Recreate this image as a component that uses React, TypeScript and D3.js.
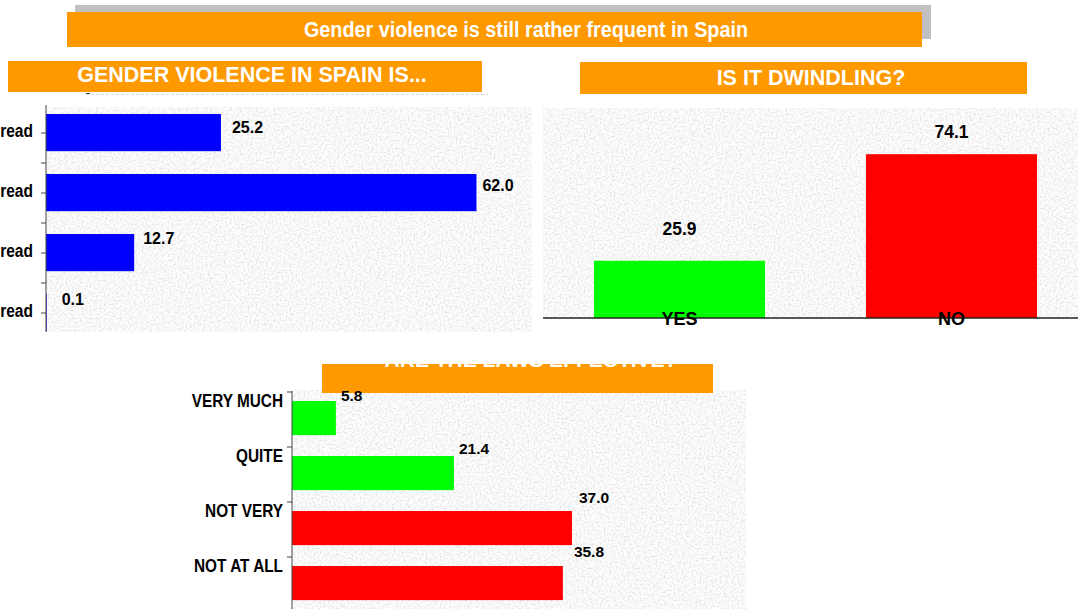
import React from 'react';
import * as d3 from 'd3';

// ---------- DATA ----------
const mainTitle = 'Gender violence is still rather frequent in Spain';
const panelTitles = ['GENDER VIOLENCE IN SPAIN IS...', 'IS IT DWINDLING?', 'ARE THE LAWS EFFECTIVE?'];

const spreadCategories = ['Very widespread', 'Quite widespread', 'Not very widespread', 'Not at all widespread'];
const spreadValues = [25.2, 62.0, 12.7, 0.1];

const dwindleCategories = ['YES', 'NO'];
const dwindleValues = [25.9, 74.1];

const concernCategories = ['VERY MUCH', 'QUITE', 'NOT VERY', 'NOT AT ALL'];
const concernValues = [5.8, 21.4, 37.0, 35.8];

// ---------- STYLE ----------
const ORANGE = '#ff9900';
const ARIAL = "'Liberation Sans', Arial, sans-serif";
const dwindleColors = ['#00ff00', '#ff0000'];
const concernColors = ['#00ff00', '#00ff00', '#ff0000', '#ff0000'];
// label nudges (as in the original layout)
const p1Dx = [11, 6, 9, 15];
const p1Dy = [19, 17, 10, 11];
const p2Dy = [-26, -16];
const p3Dx = [5, 5, 7, 11];
const p3Dy = [0, -2, -8, -9];

function Narrow(props: { x: number; y: number; size: number; sx: number; anchor?: string; fill?: string; children: React.ReactNode }) {
  const { x, y, size, sx, anchor, fill, children } = props;
  return (
    <text transform={`translate(${x},${y}) scale(${sx},1)`} x={0} y={0} textAnchor={anchor || 'start'}
      fontFamily={ARIAL} fontWeight="bold" fontSize={size} fill={fill || '#000'}>{children}</text>
  );
}

export default function App() {
  // panel 1
  const x1 = d3.scaleLinear().domain([0, 70]).range([46, 532]);
  const y1 = d3.scaleBand<string>().domain(spreadCategories).range([103, 343]);
  const bw1 = y1.bandwidth();

  // panel 2
  const x2 = d3.scaleBand<string>().domain(dwindleCategories).range([543, 1088]).paddingInner(0.371).paddingOuter(0.1875);
  const y2 = d3.scaleLinear().domain([0, 95]).range([318, 108]);

  // panel 3
  const x3 = d3.scaleLinear().domain([0, 60]).range([292, 746]);
  const y3 = d3.scaleBand<string>().domain(concernCategories).range([392, 612]);
  const bw3 = y3.bandwidth();

  const fmt = d3.format('.1f');

  return (
    <svg width={1078} height={609} style={{ position: 'absolute', left: 0, top: 0, background: '#fff' }}>
      <defs>
        <filter id="noise" x="0" y="0" width="1" height="1">
          <feTurbulence type="fractalNoise" baseFrequency="0.5" numOctaves={3} seed={4} />
          <feColorMatrix type="matrix" values="0.55 0 0 0 0.66  0.55 0 0 0 0.66  0.55 0 0 0 0.66  0 0 0 0 1" />
        </filter>
        <clipPath id="p3clip"><rect x={322} y={364} width={391} height={29} /></clipPath>
      </defs>

      {/* Main title */}
      <rect x={75} y={5} width={856} height={34} fill="#c0c0c0" />
      <rect x={67} y={12} width={855} height={35} fill={ORANGE} />
      <Narrow x={526} y={37} size={22} sx={0.9} anchor="middle" fill="#fff">{mainTitle}</Narrow>

      {/* ---------- Panel 1 ---------- */}
      <rect x={8} y={61} width={474} height={31} fill={ORANGE} />
      <text x={252} y={82} textAnchor="middle" fill="#fff" fontFamily={ARIAL} fontWeight="bold" fontSize={21.5}>{panelTitles[0]}</text>
      <line x1={86} x2={488} y1={94.5} y2={94.5} stroke="#d8d8d8" strokeDasharray="3 2" />
      <line x1={86} x2={90} y1={93.5} y2={93.5} stroke="#444" />
      <rect x={46} y={107} width={486} height={225} filter="url(#noise)" />
      {spreadCategories.map((c, i) => (
        <g key={c}>
          <rect x={x1(0)} y={(y1(c) as number) + bw1 * 0.183} width={x1(spreadValues[i]) - x1(0)} height={bw1 * 0.62} fill="#0000ff" />
          <text x={x1(spreadValues[i]) + p1Dx[i]} y={(y1(c) as number) + bw1 * 0.183 + p1Dy[i]} fontFamily={ARIAL} fontWeight="bold" fontSize={16} fill="#000">
            {fmt(spreadValues[i])}
          </text>
          <Narrow x={33} y={(y1(c) as number) + bw1 / 2 + 4} size={18.5} sx={0.84} anchor="end">{c}</Narrow>
          <line x1={41} x2={46} y1={(y1(c) as number) + bw1 / 2} y2={(y1(c) as number) + bw1 / 2} stroke="#444" />
          {i > 0 && <line x1={41} x2={46} y1={y1(c) as number} y2={y1(c) as number} stroke="#444" />}
        </g>
      ))}
      <line x1={46} x2={46} y1={105} y2={332} stroke="#444" />

      {/* ---------- Panel 2 ---------- */}
      <rect x={580} y={62} width={447} height={32} fill={ORANGE} />
      <text x={811} y={85} textAnchor="middle" fill="#fff" fontFamily={ARIAL} fontWeight="bold" fontSize={21.5}>{panelTitles[1]}</text>
      <rect x={543} y={108} width={535} height={210} filter="url(#noise)" />
      {dwindleCategories.map((c, i) => (
        <g key={c}>
          <rect x={x2(c)} y={y2(dwindleValues[i])} width={x2.bandwidth()} height={y2(0) - y2(dwindleValues[i])} fill={dwindleColors[i]} />
          <text x={(x2(c) as number) + x2.bandwidth() / 2} y={y2(dwindleValues[i]) + p2Dy[i]} textAnchor="middle" fontFamily={ARIAL} fontWeight="bold" fontSize={17.5} fill="#000">
            {fmt(dwindleValues[i])}
          </text>
        </g>
      ))}
      <line x1={543} x2={1078} y1={y2(0)} y2={y2(0)} stroke="#222" strokeWidth={1.5} />
      {dwindleCategories.map((c) => (
        <text key={c} x={(x2(c) as number) + x2.bandwidth() / 2} y={y2(0) + 6.5} textAnchor="middle" fontFamily={ARIAL} fontWeight="bold" fontSize={18} fill="#000">{c}</text>
      ))}

      {/* ---------- Panel 3 ---------- */}
      <rect x={292} y={390} width={454} height={219} filter="url(#noise)" />
      <rect x={322} y={364} width={391} height={29} fill={ORANGE} />
      <text x={531} y={366.5} textAnchor="middle" fill="#fff" fontFamily={ARIAL} fontWeight="bold" fontSize={21} clipPath="url(#p3clip)">{panelTitles[2]}</text>
      {concernCategories.map((c, i) => {
        const top = (y3(c) as number) + bw3 * 0.164;
        return (
          <g key={c}>
            <rect x={x3(0)} y={top} width={x3(concernValues[i]) - x3(0)} height={bw3 * 0.62} fill={concernColors[i]} />
            <text x={x3(concernValues[i]) + p3Dx[i]} y={top + p3Dy[i]} fontFamily={ARIAL} fontWeight="bold" fontSize={15.5} fill="#000">
              {fmt(concernValues[i])}
            </text>
            <Narrow x={283} y={(y3(c) as number) + 15} size={18.5} sx={0.83} anchor="end">{c}</Narrow>
            <line x1={287} x2={292} y1={y3(c) as number} y2={y3(c) as number} stroke="#444" />
          </g>
        );
      })}
      <line x1={292} x2={292} y1={391} y2={609} stroke="#444" />
    </svg>
  );
}
